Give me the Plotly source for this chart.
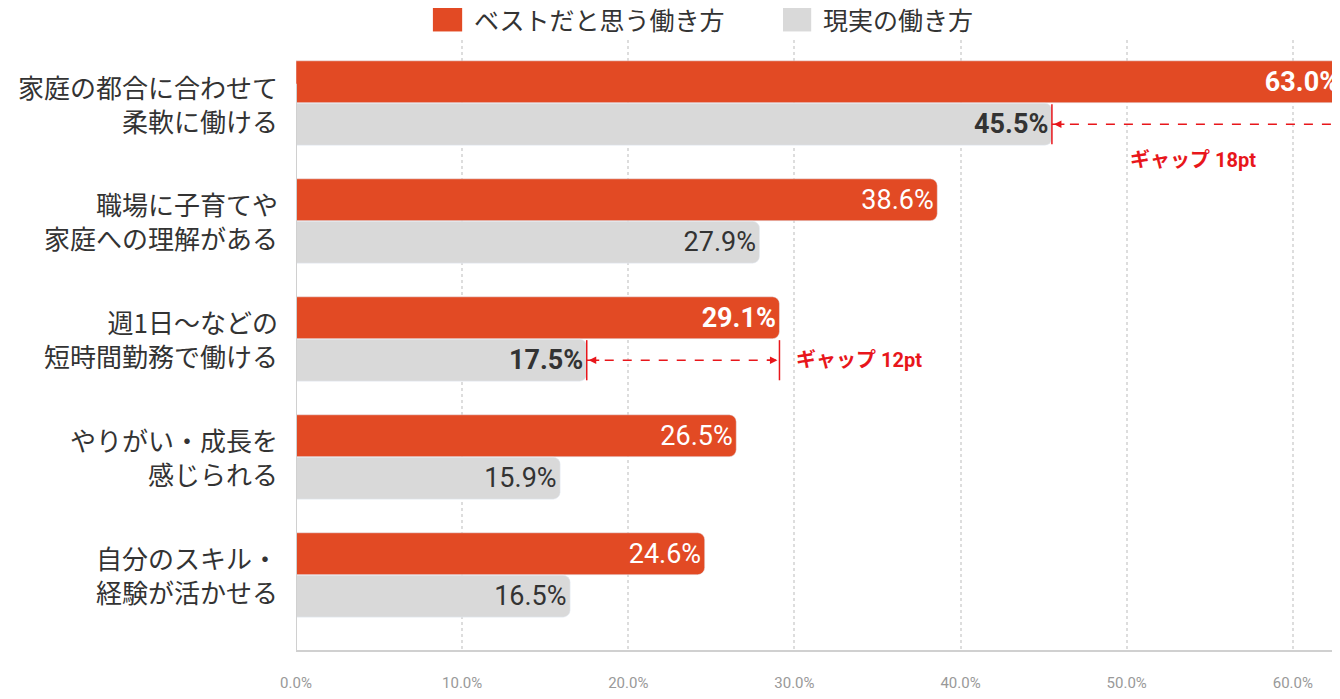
import plotly.graph_objects as go

categories = ["家庭の都合に合わせて<br>柔軟に働ける", "職場に子育てや<br>家庭への理解がある", "週1日～などの<br>短時間勤務で働ける",
              "やりがい・成長を<br>感じられる", "自分のスキル・<br>経験が活かせる"]
best = [63.0, 38.6, 29.1, 26.5, 24.6]
real = [45.5, 27.9, 17.5, 15.9, 16.5]
bold_idx = [0, 2]
ticks = [0, 10, 20, 30, 40, 50, 60]
series_names = ["ベストだと思う働き方", "現実の働き方"]

OR = "#E24A24"; GR = "#D9D9D9"; RED = "#E8161B"
JP = "Noto Sans CJK JP"
pos = [-i for i in range(len(categories))]
off = 0.18; w = 0.355

def lab(v, i):
    t = f"{v:.1f}%"
    return f"<b>{t}</b>" if i in bold_idx else t

fig = go.Figure()
fig.add_bar(y=[p + off for p in pos], x=best, orientation="h", width=w, marker_color=OR,
            name=series_names[0], text=[lab(v, i) for i, v in enumerate(best)],
            textposition="inside", insidetextanchor="end",
            textfont=dict(color="white", size=27, family="Roboto"))
fig.add_bar(y=[p - off for p in pos], x=real, orientation="h", width=w, marker_color=GR,
            name=series_names[1], text=[lab(v, i) for i, v in enumerate(real)],
            textposition="inside", insidetextanchor="end",
            textfont=dict(color="#333333", size=27, family="Roboto"))

for p, c in zip(pos, categories):
    fig.add_annotation(x=0, y=p, xref="x", yref="y", text=c, showarrow=False, xanchor="right",
                       xshift=-16, align="right", font=dict(size=26, color="#333", family=JP))

# legend
for (x0, x1, tx), col, nm in zip([(0.131, 0.159, 0.168), (0.466, 0.493, 0.502)], [OR, GR], series_names):
    fig.add_shape(type="rect", xref="paper", yref="paper", x0=x0, x1=x1, y0=1.014, y1=1.054,
                  fillcolor=col, line_width=0)
    fig.add_annotation(xref="paper", yref="paper", x=tx, y=1.034, text=nm, showarrow=False,
                       xanchor="left", yanchor="middle", font=dict(size=25, color="#333", family=JP))

def gap(i, label, tx, ty, anchor):
    y = pos[i] - off
    a, b = real[i], best[i]
    for xv in (a, b):
        fig.add_shape(type="line", x0=xv, x1=xv, y0=y - 0.17, y1=y + 0.17, line=dict(color=RED, width=1.5))
    fig.add_shape(type="line", x0=a, x1=b, y0=y, y1=y, line=dict(color=RED, width=1.5, dash="dash"))
    fig.add_annotation(x=a, y=y, ax=12, ay=0, showarrow=True, arrowhead=2, arrowsize=1,
                       arrowwidth=1.5, arrowcolor=RED, text="", xshift=2)
    fig.add_annotation(x=b, y=y, ax=-12, ay=0, showarrow=True, arrowhead=2, arrowsize=1,
                       arrowwidth=1.5, arrowcolor=RED, text="", xshift=-2)
    fig.add_annotation(x=tx, y=ty, text=f"<b>{label}</b>", showarrow=False, xanchor=anchor,
                       font=dict(color=RED, size=20, family="Roboto, " + JP))

gap(0, "ギャップ 18pt", 54, pos[0] - 0.48, "center")
gap(2, "ギャップ 12pt", 30, pos[2] - off, "left")

fig.update_layout(
    width=1340, height=699, margin=dict(l=288, r=7, t=32, b=57),
    paper_bgcolor="white", plot_bgcolor="white", barcornerradius=7,
    font=dict(family="Roboto, " + JP), showlegend=False,
    xaxis=dict(range=[0, 62.9], tickvals=ticks, ticktext=[f"{t:.1f}%" for t in ticks],
               tickfont=dict(size=15, color="#999"), showgrid=True, gridcolor="#DDDDDD",
               griddash="dot", gridwidth=1.5, zeroline=False, showline=True, linecolor="#D0D0D0",
               linewidth=2, ticks="", ticklabelstandoff=18),
    yaxis=dict(range=[-4.636, 0.534], showticklabels=False, showgrid=False, zeroline=False),
)
fig.add_shape(type="line", x0=0, x1=0, y0=0.534 - 0.37, y1=-4.636, line=dict(color="#D0D0D0", width=2))
fig.write_html("out.html")
